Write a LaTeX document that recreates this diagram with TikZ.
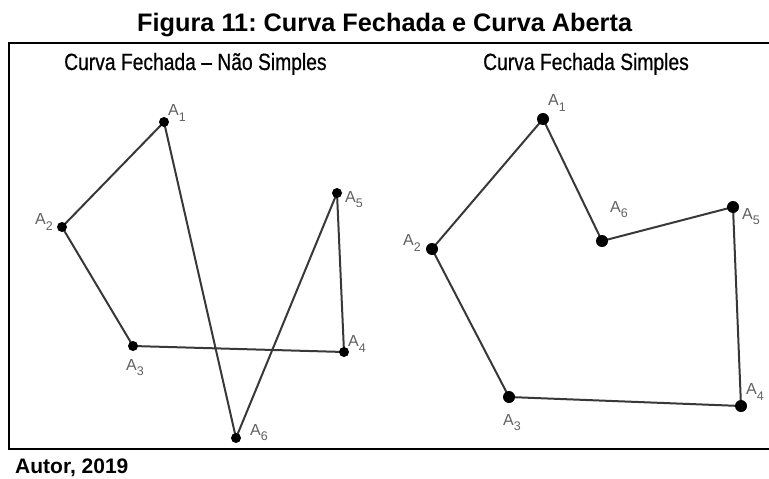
\documentclass[tikz,border=0pt]{standalone}
\usepackage{fontspec}
\setmainfont{Liberation Sans}
\newfontfamily\narrowfont[FakeStretch=0.82,FakeBold=0.6]{Liberation Sans}
\usetikzlibrary{backgrounds}
\newcommand\Asub[1]{A\raisebox{-0.6ex}{\fontsize{12.5}{12.5}\selectfont #1}}
\frenchspacing
\begin{document}
\frenchspacing
\begin{tikzpicture}[x=1pt,y=-1pt,
  dotL/.style={circle,fill=black,inner sep=0pt,minimum size=10pt},
  dotR/.style={circle,fill=black,inner sep=0pt,minimum size=12pt},
  seg/.style={draw=black!78,line width=2pt},
  lbl/.style={text=black!62,font=\fontsize{16}{16}\selectfont,inner sep=0pt},
  sub/.style={font=\narrowfont\fontsize{23.5}{23.5}\selectfont,anchor=base west,inner sep=0pt},
  frame/.style={draw=black,line width=1.8pt}]
\useasboundingbox (0,0) rectangle (769,479);
% title and source
\node[font=\bfseries\fontsize{25.3}{25.3}\selectfont,anchor=base west,inner sep=0pt] (title) at (137,31) {Figura 11: Curva Fechada e Curva Aberta};
\node[font=\bfseries\fontsize{21}{21}\selectfont,anchor=base west,inner sep=0pt] (autor) at (15,473) {Autor, 2019};
% frame (open on the right)
\draw[frame] (769,43) -- (9,43) -- (9,449) -- (769,449);
% subtitles
\node[sub] (subL) at (64,70) {Curva Fechada – Não Simples};
\node[sub] (subR) at (483,70) {Curva Fechada Simples};
% left polygon points
\node[dotL] (L1) at (164,122) {};
\node[dotL] (L2) at (62,227) {};
\node[dotL] (L3) at (133,346) {};
\node[dotL] (L4) at (344,352) {};
\node[dotL] (L5) at (337,193) {};
\node[dotL] (L6) at (236,438) {};
% right polygon points
\node[dotR] (R1) at (543,119) {};
\node[dotR] (R2) at (432,249) {};
\node[dotR] (R3) at (509,397) {};
\node[dotR] (R4) at (741,406) {};
\node[dotR] (R5) at (733,207) {};
\node[dotR] (R6) at (602,241) {};
\begin{scope}[on background layer]
\draw[seg] (L1.center) -- (L2.center) -- (L3.center) -- (L4.center) -- (L5.center) -- (L6.center) -- cycle;
\draw[seg] (R1.center) -- (R2.center) -- (R3.center) -- (R4.center) -- (R5.center) -- (R6.center) -- cycle;
\end{scope}
% left labels
\node[lbl] (lL1) at (177,113) {\Asub{1}};
\node[lbl] (lL2) at (44,222) {\Asub{2}};
\node[lbl] (lL3) at (135,368) {\Asub{3}};
\node[lbl] (lL4) at (357,344) {\Asub{4}};
\node[lbl] (lL5) at (354,200) {\Asub{5}};
\node[lbl] (lL6) at (259,433) {\Asub{6}};
% right labels
\node[lbl] (lR1) at (557,103) {\Asub{1}};
\node[lbl] (lR2) at (412,243) {\Asub{2}};
\node[lbl] (lR3) at (512,423) {\Asub{3}};
\node[lbl] (lR4) at (755,392) {\Asub{4}};
\node[lbl] (lR5) at (751,217) {\Asub{5}};
\node[lbl] (lR6) at (619,210) {\Asub{6}};
\end{tikzpicture}
\end{document}
